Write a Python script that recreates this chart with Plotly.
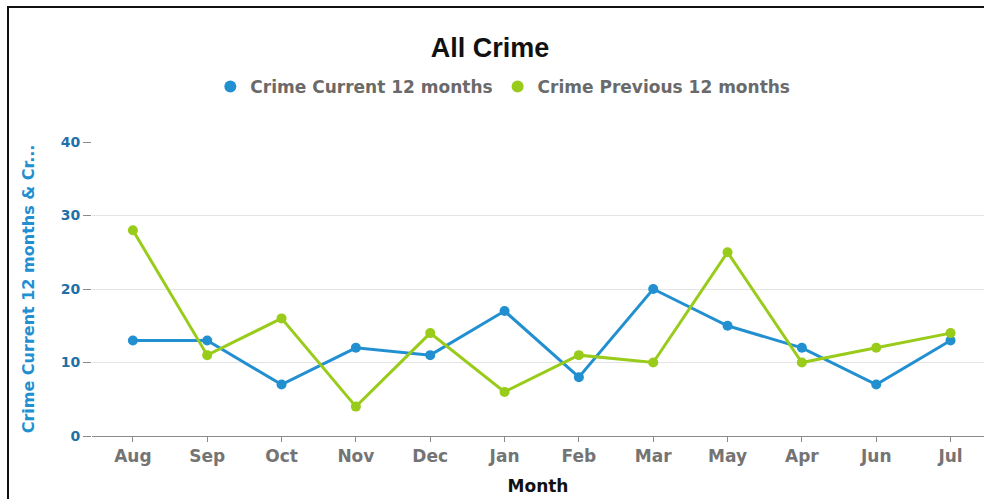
import plotly.graph_objects as go

months = ["Aug", "Sep", "Oct", "Nov", "Dec", "Jan", "Feb", "Mar", "May", "Apr", "Jun", "Jul"]
crime_current = [13, 13, 7, 12, 11, 17, 8, 20, 15, 12, 7, 13]
crime_previous = [28, 11, 16, 4, 14, 6, 11, 10, 25, 10, 12, 14]
y_ticks = [0, 10, 20, 30, 40]
series_names = ["Crime Current 12 months", "Crime Previous 12 months"]

BLUE = "#2290d0"
GREEN = "#99cc1a"
SANS = "DejaVu Sans, Verdana, sans-serif"
TITLE_FONT = "Liberation Sans, Arial, sans-serif"

fig = go.Figure()
for name, vals, col in [(series_names[0], crime_current, BLUE), (series_names[1], crime_previous, GREEN)]:
    fig.add_trace(go.Scatter(
        x=months, y=vals, name=name, mode="lines+markers",
        line=dict(color=col, width=3),
        marker=dict(color=col, size=10),
        showlegend=False,
    ))
# legend entries (circle symbols only, as in the reference)
for name, col in [(series_names[0], BLUE), (series_names[1], GREEN)]:
    fig.add_trace(go.Scatter(
        x=[None], y=[None], name=name, mode="markers",
        marker=dict(color=col, size=12), showlegend=True,
    ))

L, R, T, B = 92, 0, 142, 63
W, H = 984, 499
pw = W - L - R
ph = H - T - B

fig.update_layout(
    width=W, height=H,
    margin=dict(l=L, r=R, t=T, b=B, autoexpand=False),
    paper_bgcolor="white", plot_bgcolor="white",
    font=dict(family=SANS),
    title=dict(text="<b>All Crime</b>", x=0.498, xref="container", xanchor="center",
               y=1 - 48 / H, yref="container", yanchor="middle",
               font=dict(size=27, color="#111111", family=TITLE_FONT)),
    legend=dict(orientation="h", x=0.511, xref="container", xanchor="center",
                y=1 - 87 / H, yref="container", yanchor="middle",
                font=dict(size=17, color="#6a6a6a", family=SANS, weight="bold"),
                itemsizing="trace", itemwidth=30, traceorder="normal"),
    showlegend=True,
    hovermode="closest",
)
fig.update_xaxes(
    type="category", categoryorder="array", categoryarray=months,
    range=[-0.55, 11.45],
    showgrid=False, showline=True, linecolor="#8a8a8a", linewidth=1,
    ticks="outside", ticklen=5, tickcolor="#8a8a8a", tickwidth=1,
    tickfont=dict(size=17, color="#747474", family=SANS, weight="bold"),
    title=dict(text="Month", font=dict(size=17, color="#111111", family=SANS, weight="bold"), standoff=14),
    zeroline=False,
)
fig.update_yaxes(
    range=[0, 40], tickvals=y_ticks,
    showgrid=True, gridcolor="#e4e4e4", gridwidth=1,
    showline=False, zeroline=False,
    ticks="outside", ticklen=8, tickcolor="#8a8a8a", tickwidth=1,
    tickfont=dict(size=14, color="#1f6fa8", family=SANS, weight="bold"),
    title=dict(text="Crime Current 12 months &amp; Cr...",
               font=dict(size=16, color="#2290d0", family=SANS, weight="bold"), standoff=22),
)

# chart frame (top and left border of the surrounding box)
fig.add_shape(type="rect", xref="paper", yref="paper",
              x0=(8 - L) / pw, x1=(W + 20 - L) / pw,
              y0=-(H + 20 - (T + ph)) / ph, y1=(T + ph - 7) / ph,
              line=dict(color="#111111", width=2), fillcolor="rgba(0,0,0,0)", layer="above")

fig.write_html("out.html", config={"displayModeBar": False},
               post_script="document.body.style.margin='0';document.body.style.overflow='hidden';")
